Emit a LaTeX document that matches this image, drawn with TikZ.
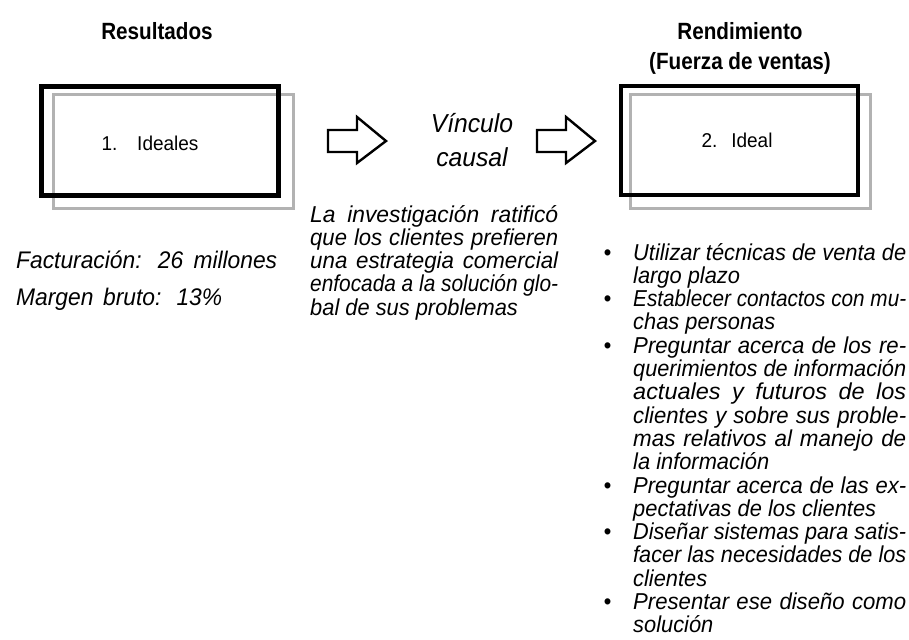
\documentclass[tikz,border=0pt]{standalone}
\usepackage{graphicx}
\usepackage{fontspec}
\setmainfont{Liberation Sans}[FakeStretch=0.95]
\newfontfamily\headfont{Liberation Sans}[FakeStretch=0.88]

% justified line of a column (spaces and letters both widened), bullet in the margin
\newlength{\natw}
\newcommand{\jl}[1]{\settowidth{\natw}{#1}%
    \ifdim\natw<\colw
        \resizebox{\colw}{\height}{\makebox[\dimexpr(\natw+\colw)/2\relax][s]{#1}}%
    \else
        \resizebox{\colw}{\height}{#1}%
    \fi}
\newcommand{\bl}{\llap{\textbullet\hspace{22pt}}}

\begin{document}
\begin{tikzpicture}[x=1pt,y=-1pt,
    frame/.style={draw=black, line width=4.7pt, minimum width=237pt, minimum height=109pt, inner sep=0pt},
    gray frame/.style={draw=gray!60, line width=3pt, minimum width=240pt, minimum height=113pt, inner sep=0pt},
    head/.style={font=\headfont\bfseries\fontsize{23.5}{30}\selectfont, anchor=base, inner sep=0pt},
    body/.style={font=\itshape\fontsize{23}{23}\selectfont, anchor=base west, inner sep=0pt},
    side/.style={body, font=\itshape\fontsize{24}{30}\selectfont},
    link/.style={font=\itshape\fontsize{26}{34}\selectfont, anchor=base, inner sep=0pt},
    boxtext/.style={font=\fontsize{20}{24}\selectfont, anchor=base, inner sep=0pt},
    block/.style={draw=black, line width=2.4pt, line join=miter}]

    \useasboundingbox[fill=white] (0,0) rectangle (909,639);

    % titles
    \node[head] (res) at (157,40) {Resultados};
    \node[head] (rend) at (740,40) {Rendimiento};
    \node[head] (fuerza) at (740,70) {(Fuerza de ventas)};

    % boxes
    \node[gray frame] (ideales back) at (173.3,151.5) {};
    \node[frame] (ideales) at (160.3,140.7) {};
    \node[boxtext] (ideales text) at (150,151) {\makebox[97pt][s]{1. Ideales}};

    \node[gray frame] (ideal back) at (750,151.5) {};
    \node[frame] (ideal) at (739.5,140.5) {};
    \node[boxtext] (ideal text) at (737,148) {\makebox[71pt][s]{2. Ideal}};

    % block arrows
    \foreach \x in {328,537}
        \draw[block] (\x,130) -- ++(29,0) -- ++(0,-13) -- ++(29,24) -- ++(-29,22) -- ++(0,-11) -- ++(-29,0) -- cycle;

    \node[link] (vinculo) at (472,133) {Vínculo};
    \node[link] (causal) at (472,167) {causal};

    % left column
    \node[side] (fact) at (16,268) {\makebox[261pt][s]{Facturación: 26 millones}};
    \node[side] (margen) at (16,305) {\makebox[206pt][s]{Margen bruto: 13\%}};

    % middle column
    \def\colw{248pt}
    \foreach \ln [count=\i from 0] in {{\jl{La investigación ratificó}},
            {\jl{que los clientes prefieren}},
            {\jl{una estrategia comercial}},
            {\jl{enfocada a la solución glo-}},
            {bal de sus problemas}}
        \node[body] (mid\i) at (310,222+23.3*\i) {\ln};

    % right column
    \def\colw{273pt}
    \foreach \ln [count=\i from 0] in {{\bl\jl{Utilizar técnicas de venta de}},
            {largo plazo},
            {\bl\jl{Establecer contactos con mu-}},
            {chas personas},
            {\bl\jl{Preguntar acerca de los re-}},
            {\jl{querimientos de información}},
            {\jl{actuales y futuros de los}},
            {\jl{clientes y sobre sus proble-}},
            {\jl{mas relativos al manejo de}},
            {la información},
            {\bl\jl{Preguntar acerca de las ex-}},
            {pectativas de los clientes},
            {\bl\jl{Diseñar sistemas para satis-}},
            {\jl{facer las necesidades de los}},
            {clientes},
            {\bl\jl{Presentar ese diseño como}},
            {solución}}
        \node[body] (item\i) at (633,260+23.3*\i) {\ln};

\end{tikzpicture}
\end{document}
